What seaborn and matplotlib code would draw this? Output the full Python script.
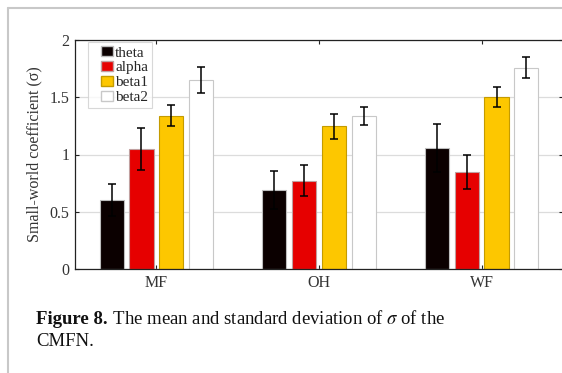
import matplotlib
matplotlib.use("Agg")
import matplotlib.pyplot as plt
from matplotlib.patches import Rectangle
from matplotlib.legend_handler import HandlerPatch
import seaborn as sns
import pandas as pd
import numpy as np

groups = ["MF", "OH", "WF"]
bands = ["theta", "alpha", "beta1", "beta2"]
theta_mean = [0.60, 0.69, 1.057]
alpha_mean = [1.048, 0.77, 0.847]
beta1_mean = [1.34, 1.246, 1.502]
beta2_mean = [1.65, 1.336, 1.758]
theta_sd = [0.14, 0.17, 0.21]
alpha_sd = [0.18, 0.135, 0.145]
beta1_sd = [0.09, 0.11, 0.085]
beta2_sd = [0.11, 0.075, 0.09]
yticks = [0, 0.5, 1, 1.5, 2]
yticklabels = ["0", "0.5", "1", "1.5", "2"]

means = [theta_mean, alpha_mean, beta1_mean, beta2_mean]
sds = [theta_sd, alpha_sd, beta1_sd, beta2_sd]
rows = []
for b, m in zip(bands, means):
    for g, v in zip(groups, m):
        rows.append({"group": g, "band": b, "value": v})
df = pd.DataFrame(rows)

sns.set_theme(style="white")
plt.rcParams["font.family"] = ["Liberation Serif", "DejaVu Serif"]
plt.rcParams["mathtext.fontset"] = "stix"

face = {"theta": "#0b0000", "alpha": "#e60000", "beta1": "#fdc700", "beta2": "#ffffff"}
edge = {"theta": "#bdbdbd", "alpha": "#c0a0a0", "beta1": "#c49b00", "beta2": "#c8c8c8"}

fig = plt.figure(figsize=(5.62, 3.73), dpi=100)
ax = fig.add_axes([75 / 562, 1 - 269 / 373, 488 / 562, 229 / 373])

sns.barplot(data=df, x="group", y="value", hue="band", order=groups, hue_order=bands,
            palette=face, saturation=1, width=0.73, gap=0.19, errorbar=None, ax=ax, zorder=2)

for b, cont, sd in zip(bands, ax.containers, sds):
    xs, hs = [], []
    for p in cont:
        p.set_edgecolor(edge[b])
        p.set_linewidth(0.8)
        xs.append(p.get_x() + p.get_width() / 2)
        hs.append(p.get_height())
    ax.errorbar(xs, hs, yerr=sd, fmt="none", ecolor="black", elinewidth=1.1,
                capsize=2.6, capthick=1.1, zorder=3)

ax.set_xlim(-0.5, 2.5)
ax.set_ylim(0, 2)
ax.set_yticks(yticks)
ax.set_yticklabels(yticklabels)
ax.yaxis.grid(True, color="#dcdcdc", linewidth=0.9, zorder=0)
ax.xaxis.grid(False)
ax.set_axisbelow(True)
for s in ax.spines.values():
    s.set_color("#222222")
    s.set_linewidth(0.9)
ax.tick_params(axis="both", which="both", direction="in", length=3, width=0.8,
               top=True, right=True, left=True, bottom=True, labelsize=11.5,
               colors="#222222", pad=4)
for t in ax.get_xticklabels() + ax.get_yticklabels():
    t.set_color("#333333")
ax.set_xlabel("")
ax.set_ylabel("Small-world coefficient (σ)", fontsize=11.5, color="#333333", labelpad=5)


def right_patch(legend, orig_handle, xdescent, ydescent, width, height, fontsize):
    w = 12.5 * 72 / 100
    h = 10.5 * 72 / 100
    return Rectangle((-xdescent + width - w, -ydescent + (height - h) / 2), w, h)


handles, labels = ax.get_legend_handles_labels()
leg = ax.legend(handles, labels, loc="upper left", bbox_to_anchor=(0.027, 0.991),
                borderaxespad=0, frameon=True, fontsize=11, handlelength=1.4,
                handleheight=0.7, handletextpad=0.12, borderpad=0.25, labelspacing=0.08,
                fancybox=False,
                handler_map={Rectangle: HandlerPatch(patch_func=right_patch)})
leg.get_frame().set_edgecolor("#cfcfcf")
leg.get_frame().set_linewidth(0.8)
for h, b in zip(leg.legend_handles, bands):
    h.set_edgecolor(edge[b])

x0 = 36.5 / 562
y1 = 1 - 324.3 / 373
y2 = 1 - 346 / 373
t1 = fig.text(x0, y1, "Figure 8.", fontsize=13.5, fontweight="bold", color="#111111",
              va="baseline")
fig.canvas.draw()
bb = t1.get_window_extent(renderer=fig.canvas.get_renderer())
x1 = bb.x1 / fig.bbox.width
fig.text(x1, y1, " The mean and standard deviation of $\\sigma$ of the", fontsize=13.5,
         color="#111111", va="baseline")
fig.text(x0, y2, "CMFN.", fontsize=13.5, color="#111111", va="baseline")

# decorative page frame lines
fig.add_artist(plt.Line2D([8 / 562, 8 / 562], [0, 1 - 8 / 373], color="#c8c8c8", lw=1.5))
fig.add_artist(plt.Line2D([8 / 562, 1], [1 - 8 / 373, 1 - 8 / 373], color="#c8c8c8", lw=1.5))

fig.savefig("out.png", dpi=100)
